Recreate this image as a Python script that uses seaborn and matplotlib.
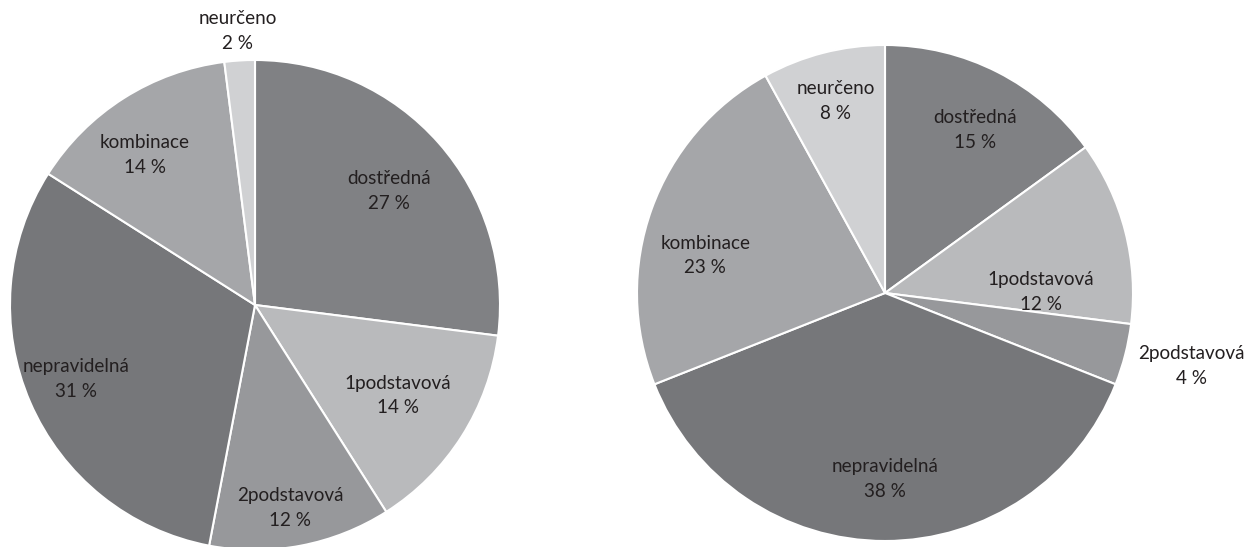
import numpy as np
import matplotlib
matplotlib.use('Agg')
import matplotlib.pyplot as plt
import seaborn as sns

# Data
categories = ['dostředná', '1podstavová', '2podstavová', 'nepravidelná', 'kombinace', 'neurčeno']
left_values = [27, 14, 12, 31, 14, 2]
right_values = [15, 12, 4, 38, 23, 8]

colors = ['#808184', '#b9babc', '#97989b', '#76777a', '#a5a6a9', '#d0d1d3']

# label placement (radius factor, angle shift in degrees) per slice
left_label_pos = [(0.72, -1), (0.69, 0), (0.84, -1), (0.79, -1), (0.76, 4), (1.12, 0)]
right_label_pos = [(0.75, -2), (0.63, -14), (1.27, 1), (0.75, 0), (0.74, 8), (0.80, 0)]

sns.set_theme(style='white')
plt.rcParams['font.family'] = ['Lato', 'DejaVu Sans']

W, H = 1248, 547
fig = plt.figure(figsize=(W / 100, H / 100), dpi=100)


def draw_pie(rect, values, label_pos):
    ax = fig.add_axes(rect)
    ax.pie(values, colors=colors, startangle=90, counterclock=False, radius=1,
           wedgeprops=dict(edgecolor='white', linewidth=1.5))
    ax.set_xlim(-1, 1)
    ax.set_ylim(-1, 1)
    ax.set_aspect('equal')
    ax.axis('off')
    total = sum(values)
    start = 90.0
    for cat, v, (rf, shift) in zip(categories, values, label_pos):
        mid = start - v / total * 360 / 2
        start -= v / total * 360
        a = np.deg2rad(mid + shift)
        ax.text(rf * np.cos(a), rf * np.sin(a), f'{cat}\n{v} %', ha='center', va='center',
                fontsize=13.6, color='#231f20', linespacing=1.55, clip_on=False)
    return ax


draw_pie([10 / W, -3 / H, 490 / W, 490 / H], left_values, left_label_pos)
draw_pie([637 / W, 6 / H, 496 / W, 496 / H], right_values, right_label_pos)

fig.savefig('out.png', dpi=100, facecolor='white')
